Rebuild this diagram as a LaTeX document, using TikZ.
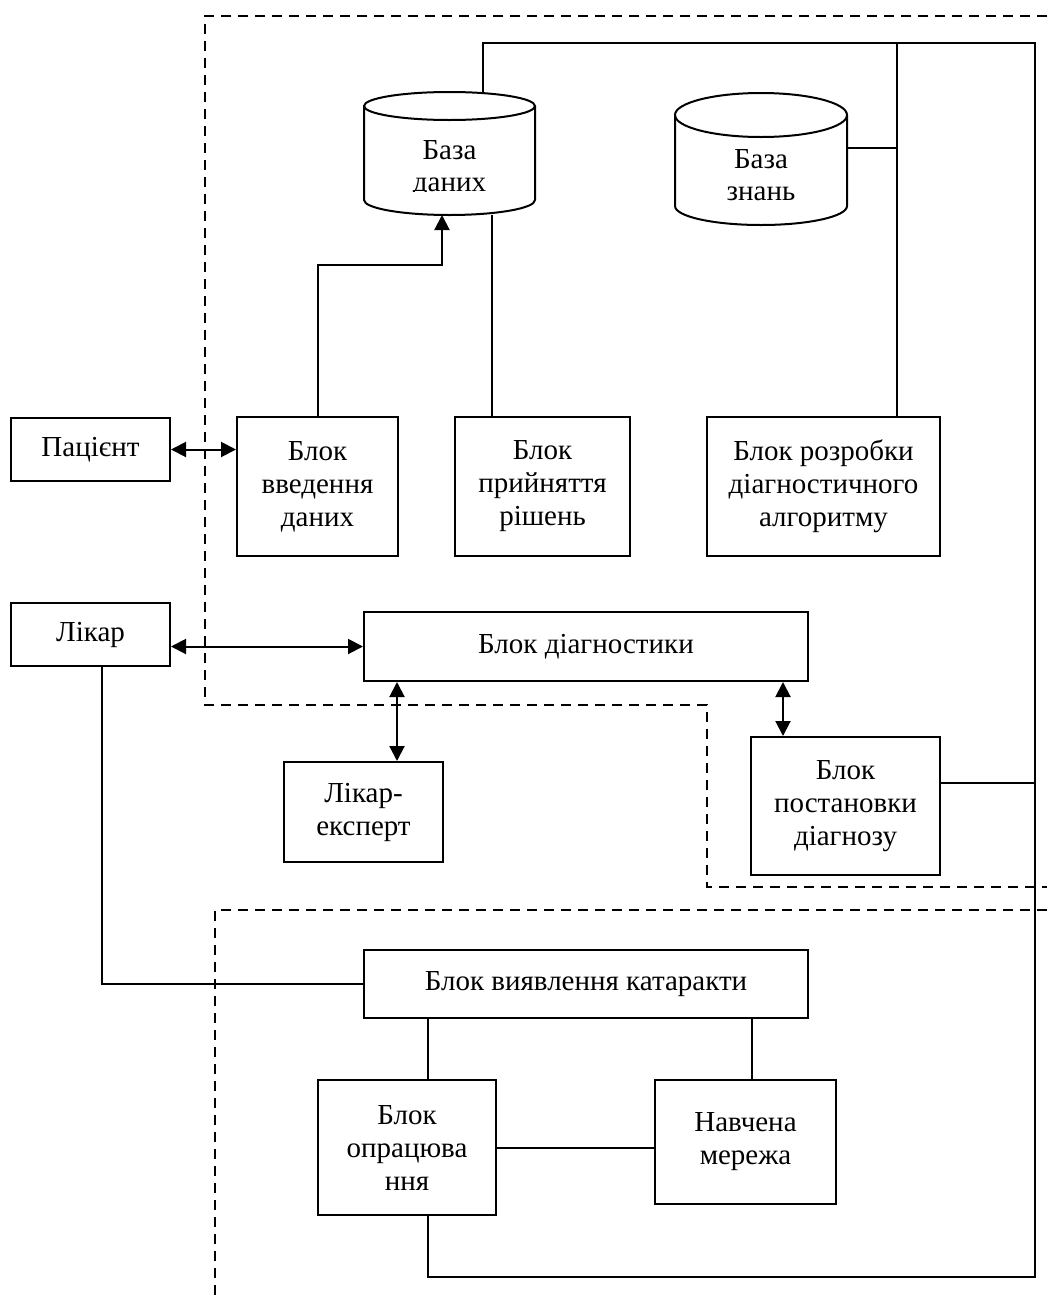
\documentclass[tikz,border=0pt]{standalone}
\usepackage{fontspec}
\setmainfont{Liberation Serif}
\usetikzlibrary{arrows.meta}
\begin{document}
\begin{tikzpicture}[x=1pt,y=-1pt,
  line width=2pt,
  box/.style={draw, line width=2pt, rectangle, align=center, inner sep=0pt, font=\fontsize{29}{33}\selectfont},
  txt/.style={align=center, inner sep=0pt, font=\fontsize{29}{32}\selectfont},
  conn/.style={line width=2pt},
  biarrow/.style={line width=2pt, {Triangle[length=15pt,width=15pt]}-{Triangle[length=15pt,width=15pt]}},
  uparrow/.style={line width=2pt, -{Triangle[length=15pt,width=15pt]}},
  frame/.style={line width=2pt, dash pattern=on 10pt off 7pt}]
\useasboundingbox (0,0) rectangle (1047,1296);

% dashed frames
\draw[frame] (1047,16) -- (205,16) -- (205,705) -- (707,705) -- (707,887) -- (1047,887);
\draw[frame] (1047,910) -- (215,910) -- (215,1296);

% cylinder: База даних
\draw[conn, fill=white] (364,106) -- (364,200) arc[start angle=180, end angle=0, x radius=85.5, y radius=15] -- (535,106);
\draw[conn] (449.5,106) ellipse[x radius=85.5, y radius=14];
\begin{scope}
  \clip (364,121) rectangle (535,191);
  \node[txt, anchor=base] (db) at (449.5,191) {База\\даних};
\end{scope}
\coordinate (dbtop) at (483,92);
\coordinate (dbin) at (442,215);
\coordinate (dbout) at (492,215);

% cylinder: База знань
\draw[conn, fill=white] (675,115) -- (675,206) arc[start angle=180, end angle=0, x radius=86, y radius=19] -- (847,115);
\draw[conn] (761,115) ellipse[x radius=86, y radius=22];
\begin{scope}
  \clip (675,138) rectangle (847,200);
  \node[txt, anchor=base] (kb) at (761,200) {База\\знань};
\end{scope}
\coordinate (kbright) at (847,148);

% boxes
\node[box, minimum width=159, minimum height=63] (pac) at (90.5,449.5) {Пацієнт};
\node[box, minimum width=161, minimum height=139] (vved) at (317.5,486.5) {Блок\\введення\\даних};
\node[box, minimum width=175, minimum height=139] (pryin) at (542.5,486.5) {Блок\\прийняття\\рішень};
\node[box, minimum width=233, minimum height=139] (rozr) at (823.5,486.5) {Блок розробки\\діагностичного\\алгоритму};
\node[box, minimum width=159, minimum height=63] (likar) at (90.5,634.5) {Лікар};
\node[box, minimum width=444, minimum height=69] (diag) at (586,646.5) {Блок діагностики};
\node[box, minimum width=159, minimum height=100] (expert) at (363.5,812) {Лікар-\\експерт};
\node[box, minimum width=189, minimum height=138] (postan) at (845.5,806) {Блок\\постановки\\діагнозу};
\node[box, minimum width=444, minimum height=68] (katar) at (586,984) {Блок виявлення катаракти};
\node[box, minimum width=178, minimum height=135] (oprac) at (407,1147.5) {Блок\\опрацюва\\ння};
\node[box, minimum width=181, minimum height=124] (merezha) at (745.5,1142) {Навчена\\мережа};

% helper coordinates
\coordinate (bus) at (1035,43);
\coordinate (busR) at (1035,1277);
\coordinate (rx) at (897,43);
\coordinate (ex) at (397,0);
\coordinate (px) at (783,0);
\coordinate (pl) at (0,783);
\coordinate (lx) at (102,0);
\coordinate (ox) at (428,0);
\coordinate (mx) at (752,0);

% connectors
\draw[biarrow] (pac.east) -- (pac.east -| vved.west);
\draw[biarrow] (likar.east |- diag.west) -- (diag.west);
\draw[biarrow] (diag.south -| ex) -- (expert.north -| ex);
\draw[biarrow] (diag.south -| px) -- (postan.north -| px);
\draw[uparrow] (vved.north) -- (vved.north |- 0,265) -| (dbin);
\draw[conn] (dbout) -- (dbout |- pryin.north);
\draw[conn] (dbtop) -- (dbtop |- bus) -- (bus) -- (busR) -- (busR -| ox) -- (oprac.south -| ox);
\draw[conn] (rx) -- (rozr.north -| rx);
\draw[conn] (kbright) -- (kbright -| rx);
\draw[conn] (postan.east |- pl) -- (bus |- pl);
\draw[conn] (likar.south -| lx) |- (katar.west);
\draw[conn] (katar.south -| ox) -- (oprac.north -| ox);
\draw[conn] (katar.south -| mx) -- (merezha.north -| mx);
\draw[conn] (oprac.east) -- (oprac.east -| merezha.west);
\end{tikzpicture}
\end{document}
